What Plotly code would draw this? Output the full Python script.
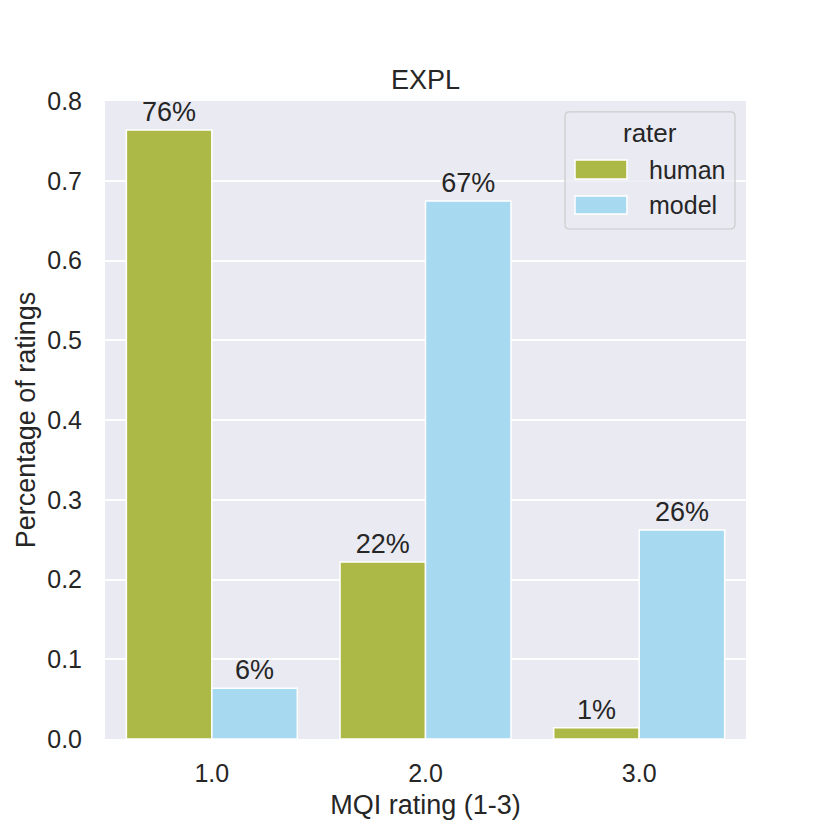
import plotly.graph_objects as go

categories = ["1.0", "2.0", "3.0"]
human = [0.7636, 0.222, 0.0142]
model = [0.0637, 0.6746, 0.262]
yticks = [0.0, 0.1, 0.2, 0.3, 0.4, 0.5, 0.6, 0.7, 0.8]
ytick_labels = ["0.0", "0.1", "0.2", "0.3", "0.4", "0.5", "0.6", "0.7", "0.8"]
series_names = ["human", "model"]
series_colors = ["#adb947", "#a7d9f1"]

FONT = "Liberation Sans, Arial, Helvetica, sans-serif"
TXT = "#262626"

fig = go.Figure()
for name, vals, color in zip(series_names, [human, model], series_colors):
    fig.add_trace(go.Bar(
        x=categories, y=vals, name=name,
        marker=dict(color=color, line=dict(color="white", width=1.5)),
        texttemplate="%{y:.0%}", textposition="outside",
        textfont=dict(size=27, color=TXT, family=FONT),
        cliponaxis=False, showlegend=False,
    ))

# custom legend (seaborn style) in paper coordinates
def rounded_rect(x0, y0, x1, y1, rx, ry):
    return (f"M {x0+rx},{y0} L {x1-rx},{y0} Q {x1},{y0} {x1},{y0+ry} "
            f"L {x1},{y1-ry} Q {x1},{y1} {x1-rx},{y1} L {x0+rx},{y1} "
            f"Q {x0},{y1} {x0},{y1-ry} L {x0},{y0+ry} Q {x0},{y0} {x0+rx},{y0} Z")

fig.add_shape(type="path", xref="paper", yref="paper",
              path=rounded_rect(0.7176, 0.7994, 0.9828, 0.9828, 0.007, 0.007),
              fillcolor="rgba(234,234,242,0.8)", line=dict(color="#cccccc", width=1.2))
fig.add_annotation(text="rater", xref="paper", yref="paper", x=0.8502, y=0.9498,
                   xanchor="center", yanchor="middle", showarrow=False,
                   font=dict(size=26, color=TXT, family=FONT))
legend_rows = [(0.9075, 0.8777, 0.8918), (0.8511, 0.8229, 0.8370)]
for name, color, (ya, yb, yt) in zip(series_names, series_colors, legend_rows):
    fig.add_shape(type="rect", xref="paper", yref="paper",
                  x0=0.7332, x1=0.8143, y0=yb, y1=ya,
                  fillcolor=color, line=dict(color="white", width=1.5))
    fig.add_annotation(text=name, xref="paper", yref="paper", x=0.8456, y=yt,
                       xanchor="left", yanchor="middle", showarrow=False,
                       font=dict(size=25, color=TXT, family=FONT))

fig.update_layout(
    width=830, height=830,
    margin=dict(l=97, r=92, t=93, b=99),
    paper_bgcolor="white", plot_bgcolor="#eaeaf2",
    barmode="group", bargap=0.2, bargroupgap=0,
    font=dict(family=FONT, size=25, color=TXT),
    title=dict(text="EXPL", x=0.5, xanchor="center", xref="paper",
               y=1 - 72 / 830, yanchor="middle", font=dict(size=27, color=TXT)),
    xaxis=dict(title=dict(text="MQI rating (1-3)", font=dict(size=27), standoff=9),
               showgrid=False, ticks="", tickfont=dict(size=25), ticklabelstandoff=17),
    yaxis=dict(title=dict(text="Percentage of ratings", font=dict(size=27), standoff=3),
               range=[0, 0.8], tickvals=yticks, ticktext=ytick_labels,
               gridcolor="white", gridwidth=1.5, zeroline=False, ticks="",
               tickfont=dict(size=25), ticklabelstandoff=22),
    showlegend=False,
)

fig.write_html("out.html")
